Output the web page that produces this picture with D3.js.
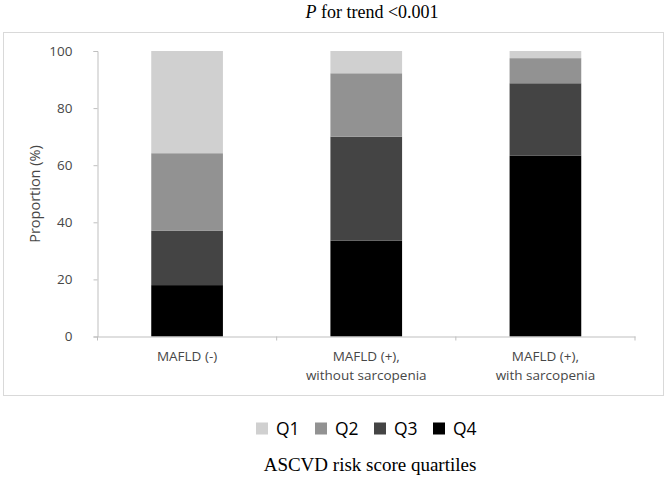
<!DOCTYPE html>
<html>
<head>
<meta charset="utf-8">
<script src="https://cdn.jsdelivr.net/npm/d3@7"></script>
<style>
  html, body { margin: 0; padding: 0; background: #fff; }
  svg { display: block; }
</style>
</head>
<body>
<svg id="chart" width="667" height="478"></svg>
<script>
// ---- data ----
const categories = [["MAFLD (-)"], ["MAFLD (+),", "without sarcopenia"], ["MAFLD (+),", "with sarcopenia"]];
const categoryKeys = ["MAFLD (-)", "MAFLD (+), without sarcopenia", "MAFLD (+), with sarcopenia"];
const seriesNames = ["Q1", "Q2", "Q3", "Q4"];
const q1Values = [35.8, 7.8, 2.5];
const q2Values = [27.1, 22.2, 8.8];
const q3Values = [19.1, 36.4, 25.4];
const q4Values = [18.0, 33.6, 63.3];
const yTicks = [0, 20, 40, 60, 80, 100];
const seriesColors = ["#d0d0d0", "#929292", "#444444", "#000000"];
const titleText = "for trend <0.001";
const legendTitle = "ASCVD risk score quartiles";
const yLabel = "Proportion (%)";

// ---- build table ----
const rows = categoryKeys.map((k, i) => ({
  key: k,
  Q1: q1Values[i], Q2: q2Values[i], Q3: q3Values[i], Q4: q4Values[i]
}));
// stack from bottom: Q4, Q3, Q2, Q1
const stackOrder = ["Q4", "Q3", "Q2", "Q1"];
const stacked = d3.stack().keys(stackOrder)(rows);
const color = d3.scaleOrdinal().domain(seriesNames).range(seriesColors);

const svg = d3.select("#chart");

// frame
svg.append("rect")
  .attr("x", 3.5).attr("y", 32.5).attr("width", 660).attr("height", 363)
  .attr("fill", "none").attr("stroke", "#d9d9d9").attr("stroke-width", 1);

// title
const title = svg.append("text")
  .attr("x", 372).attr("y", 18)
  .attr("text-anchor", "middle")
  .attr("font-family", "'Liberation Serif', 'Times New Roman', serif")
  .attr("font-size", 18).attr("fill", "#000");
title.append("tspan").attr("font-style", "italic").text("P");
title.append("tspan").text(" " + titleText);

const x = d3.scaleBand().domain(categoryKeys).range([97.5, 635]).paddingInner(0.6).paddingOuter(0.3);
const y = d3.scaleLinear().domain([0, 100]).range([336.5, 51]);

// bars
svg.append("g").selectAll("g").data(stacked).join("g")
  .attr("fill", d => color(d.key))
  .selectAll("rect").data(d => d).join("rect")
  .attr("x", d => x(d.data.key))
  .attr("width", x.bandwidth())
  .attr("y", d => y(d[1]))
  .attr("height", d => y(d[0]) - y(d[1]));

const axisColor = "#bfbfbf";
const textColor = "#474747";
const sansFont = "'Open Sans', 'Noto Sans', sans-serif";

// y axis
const yAxis = svg.append("g").attr("transform", "translate(97.5,0)")
  .call(d3.axisLeft(y).tickValues(yTicks).tickSize(4).tickPadding(21));
yAxis.select(".domain").attr("stroke", axisColor);
yAxis.selectAll(".tick line").attr("stroke", axisColor);
yAxis.selectAll(".tick text")
  .attr("fill", textColor).attr("font-family", sansFont).attr("font-size", 13.5);

// x axis
const xAxis = svg.append("g").attr("transform", "translate(0,336.5)")
  .call(d3.axisBottom(x).tickSize(0).tickFormat(""));
xAxis.select(".domain").attr("stroke", axisColor);
// boundary ticks
const step = x.step();
const bounds = d3.range(categoryKeys.length + 1).map(i => 97.5 + i * step);
xAxis.selectAll("line.bound").data(bounds).join("line")
  .attr("class", "bound")
  .attr("x1", d => d).attr("x2", d => d)
  .attr("y1", 0).attr("y2", 4)
  .attr("stroke", axisColor);

// category labels
const catG = svg.append("g");
categoryKeys.forEach((k, i) => {
  const t = catG.append("text")
    .attr("x", x(k) + x.bandwidth() / 2)
    .attr("y", 361)
    .attr("text-anchor", "middle")
    .attr("font-family", sansFont).attr("font-size", 13.5)
    .attr("fill", textColor);
  categories[i].forEach((line, j) => {
    t.append("tspan").attr("x", x(k) + x.bandwidth() / 2).attr("dy", j === 0 ? 0 : 18.5).text(line);
  });
});

// y label
svg.append("text")
  .attr("transform", "translate(40,194) rotate(-90)")
  .attr("text-anchor", "middle")
  .attr("font-family", sansFont).attr("font-size", 14.5)
  .attr("fill", textColor)
  .text(yLabel);

// legend
const legend = svg.append("g");
const legendX = d3.scalePoint().domain(seriesNames).range([256, 433]);
seriesNames.forEach(s => {
  const g = legend.append("g").attr("transform", `translate(${legendX(s)},422.5)`);
  g.append("rect").attr("width", 12).attr("height", 12).attr("fill", color(s));
  g.append("text").attr("x", 20).attr("y", 12)
    .attr("font-family", sansFont).attr("font-size", 17.5).attr("fill", "#000")
    .text(s);
});

svg.append("text")
  .attr("x", 370).attr("y", 471)
  .attr("text-anchor", "middle")
  .attr("font-family", "'Liberation Serif', 'Times New Roman', serif")
  .attr("font-size", 19).attr("fill", "#000")
  .text(legendTitle);
</script>
</body>
</html>
